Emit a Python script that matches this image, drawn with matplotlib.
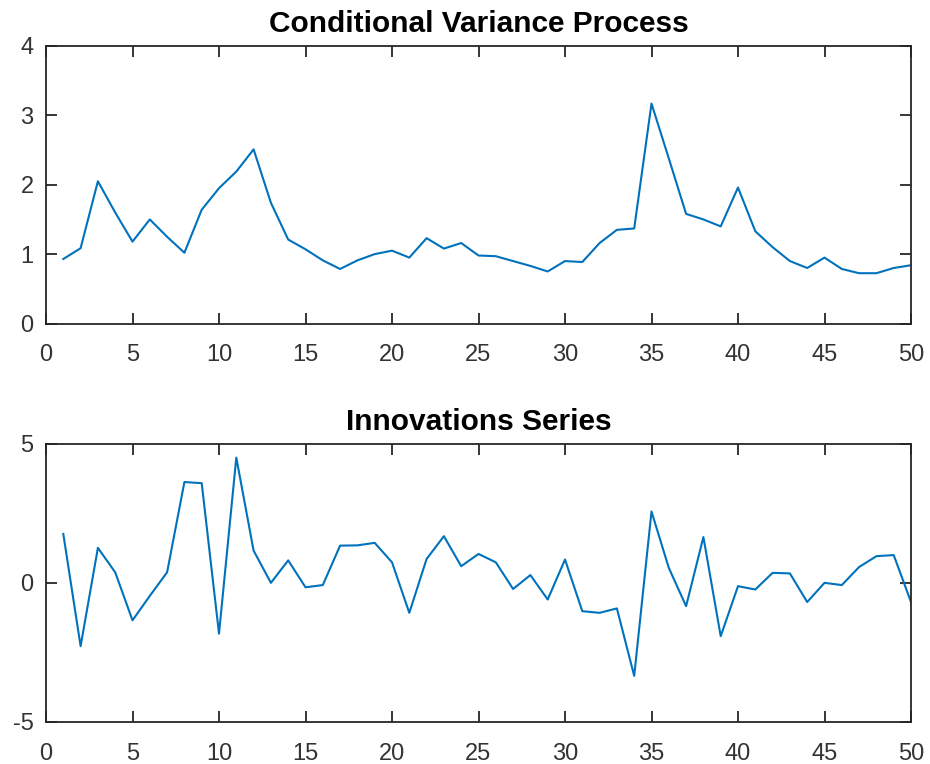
import matplotlib
matplotlib.use("Agg")
import matplotlib.pyplot as plt
import numpy as np

t = list(range(1, 51))
cond_var = [0.93, 1.085, 2.05, 1.60, 1.18, 1.50, 1.25, 1.02, 1.64, 1.95,
            2.19, 2.51, 1.74, 1.21, 1.07, 0.91, 0.786, 0.91, 1.00, 1.05,
            0.95, 1.23, 1.08, 1.16, 0.98, 0.97, 0.90, 0.83, 0.75, 0.90,
            0.886, 1.16, 1.35, 1.37, 3.17, 2.38, 1.58, 1.50, 1.40, 1.96,
            1.33, 1.10, 0.90, 0.80, 0.95, 0.786, 0.725, 0.725, 0.80, 0.84]
innov = [1.76, -2.28, 1.26, 0.38, -1.35, -0.47, 0.38, 3.63, 3.59, -1.83,
         4.51, 1.16, 0.0, 0.81, -0.16, -0.08, 1.34, 1.35, 1.44, 0.74,
         -1.08, 0.86, 1.68, 0.60, 1.04, 0.74, -0.22, 0.28, -0.60, 0.84,
         -1.02, -1.08, -0.92, -3.35, 2.57, 0.54, -0.84, 1.65, -1.92, -0.12,
         -0.24, 0.36, 0.34, -0.69, 0.0, -0.08, 0.57, 0.96, 1.00, -0.69]

titles = ["Conditional Variance Process", "Innovations Series"]
x_ticks = [0, 5, 10, 15, 20, 25, 30, 35, 40, 45, 50]
y_ticks_top = [0, 1, 2, 3, 4]
y_ticks_bot = [-5, 0, 5]

plt.rcParams['font.family'] = ['Liberation Sans', 'DejaVu Sans']
plt.rcParams['axes.unicode_minus'] = False
axc = '#262626'
lc = '#0072BD'

fig = plt.figure(figsize=(9.30, 7.64), dpi=100)
W, H = 930, 764
L, R = 46, 911
ax1 = fig.add_axes([L / W, 1 - 323.5 / H, (R - L) / W, (323.5 - 46) / H])
ax2 = fig.add_axes([L / W, 1 - 721.7 / H, (R - L) / W, (721.7 - 444) / H])

for ax, y, ttl, yt, ylim in [(ax1, cond_var, titles[0], y_ticks_top, (0, 4)),
                             (ax2, innov, titles[1], y_ticks_bot, (-5, 5))]:
    ax.plot(t, y, color=lc, lw=1.5)
    ax.set_xlim(0, 50)
    ax.set_ylim(*ylim)
    ax.set_xticks(x_ticks)
    ax.set_yticks(yt)
    ax.set_title(ttl, fontsize=21.5, fontweight='bold', color='black', pad=10)
    for s in ax.spines.values():
        s.set_color(axc)
        s.set_linewidth(1.3)
    ax.tick_params(direction='in', length=8, width=1.3, color=axc,
                   labelcolor='#333333', labelsize=17, top=True, right=True)
    ax.tick_params(axis='x', pad=15)
    ax.tick_params(axis='y', pad=9)

fig.savefig("out.png", dpi=100, facecolor='white')
